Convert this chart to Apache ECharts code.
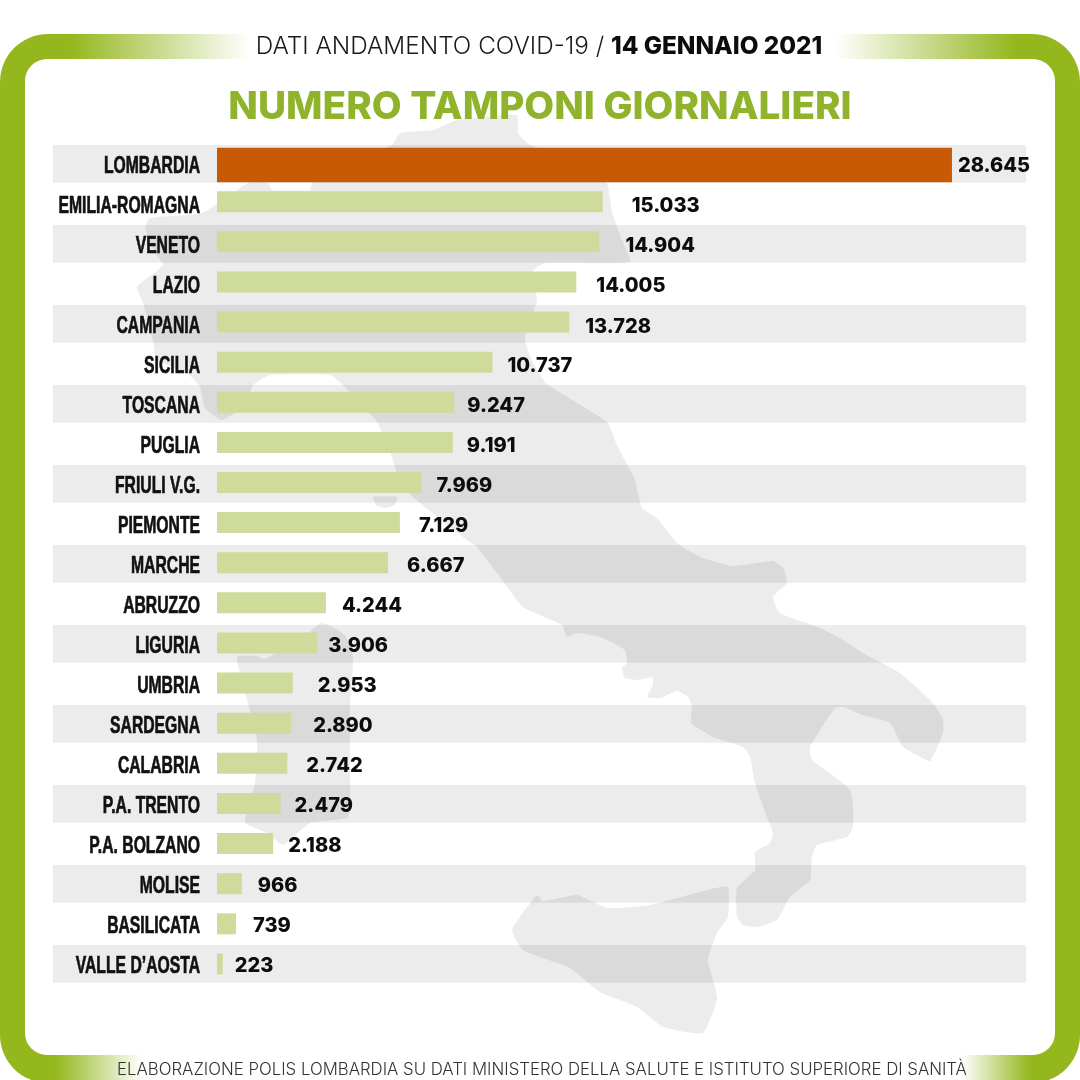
<!DOCTYPE html>
<html><head><meta charset="utf-8">
<style>html,body{margin:0;padding:0;background:#fff}#c{width:1080px;height:1080px}</style>
<script src="https://cdn.jsdelivr.net/npm/echarts@6/dist/echarts.min.js"></script>
</head><body><div id="c"></div>
<script>
const regions = ['LOMBARDIA','EMILIA-ROMAGNA','VENETO','LAZIO','CAMPANIA','SICILIA','TOSCANA','PUGLIA','FRIULI V.G.','PIEMONTE','MARCHE','ABRUZZO','LIGURIA','UMBRIA','SARDEGNA','CALABRIA','P.A. TRENTO','P.A. BOLZANO','MOLISE','BASILICATA',"VALLE D\u2019AOSTA"];
const tamponi = [28645,15033,14904,14005,13728,10737,9247,9191,7969,7129,6667,4244,3906,2953,2890,2742,2479,2188,966,739,223];
const labelGaps = [6,29,26,20,16,15,13,14,15,19,19,16,11,25,22,19,14,15,16,17,12];
const labelDrops = [1,4.5,4.5,4.5,4.5,4,4,4,3.5,3.5,3.5,3.5,3.5,3,3,3,3,2.5,2.5,2.5,2.5];
const stripeRows = [1,0,1,0,1,0,1,0,1,0,1,0,1,0,1,0,1,0,1,0,1];
const headerLight = 'DATI ANDAMENTO COVID-19 / ';
const headerBold = '14 GENNAIO 2021';
const titleText = 'NUMERO TAMPONI GIORNALIERI';
const footerText = 'ELABORAZIONE POLIS LOMBARDIA SU DATI MINISTERO DELLA SALUTE E ISTITUTO SUPERIORE DI SANIT\u00C0';

const italyOutline = [[237,190],[250,182],[268,183],[272,190],[310,190],[312,182],[345,165],[392,145],[400,133],[433,130],[457,120],[517,115],[518,133],[530,145],[590,165],[607,183],[612,212],[622,240],[630,262],[545,263],[533,271],[537,300],[525,338],[533,363],[547,384],[607,422],[617,445],[630,470],[635,480],[642,508],[657,518],[677,543],[703,558],[733,566],[773,561],[783,568],[787,583],[773,597],[780,613],[820,628],[843,640],[863,653],[900,673],[933,703],[943,720],[943,733],[930,761],[917,755],[903,747],[890,723],[863,715],[843,707],[835,708],[810,747],[812,760],[830,773],[850,790],[853,807],[853,827],[847,837],[817,845],[812,857],[810,880],[790,897],[777,920],[757,927],[743,925],[737,917],[737,888],[755,870],[755,852],[770,843],[773,833],[767,817],[755,783],[750,757],[743,747],[713,737],[691,723],[692,707],[688,697],[677,691],[660,698],[647,697],[653,685],[652,677],[638,680],[625,678],[622,668],[627,663],[625,650],[600,637],[577,633],[567,637],[562,625],[523,607],[500,577],[477,547],[467,540],[413,497],[397,473],[392,457],[377,422],[343,385],[330,375],[270,375],[253,385],[245,405],[222,420],[205,408],[200,387],[187,373],[157,360],[153,340],[143,303],[137,287],[163,265],[155,253],[145,227],[150,218],[202,213]];
const sicilyOutline = [[537,895],[543,901],[577,895],[607,908],[650,905],[707,890],[728,887],[728,917],[717,933],[708,960],[715,987],[717,1000],[703,1033],[663,1027],[637,1007],[600,992],[570,968],[523,950],[512,930]];
const sardiniaOutline = [[322,623],[345,635],[353,657],[350,707],[350,773],[348,817],[310,823],[283,845],[267,833],[245,822],[255,783],[257,740],[248,703],[237,657],[258,656],[264,659],[271,656],[300,640]];
const elbaOutline = [[373,497],[397,497],[395,505],[385,508],[377,506]];

const fmt = v => String(v).replace(/\B(?=(\d{3})+$)/g, '.');
const sansBold = 'Inter, "Open Sans", sans-serif';
const MAPC = 'rgba(0,0,0,0.075)', STRIPE = 'rgba(0,0,0,0.075)';
const GREEN = '#95b71e';

function grad(stops){return {type:'linear',x:0,y:0,x2:1,y2:0,colorStops:stops};}
function poly(points){return {type:'polygon',z:-8,silent:true,shape:{points,smooth:0.15},style:{fill:MAPC}};}

const valueLabel = {show:true,position:'right',color:'#0c0c0c',fontFamily:sansBold,fontWeight:800,fontSize:20,formatter:p=>fmt(p.value)};
const hiddenX = i => ({gridIndex:i,type:'value',min:0,max:31530,show:false});
const catY = (i,data) => ({gridIndex:i,type:'category',inverse:true,data,show:false});
const withGaps = (vals,gaps,drops)=>vals.map((v,i)=>({value:v,label:{distance:gaps[i],offset:[0,drops[i]]}}));

const chart = echarts.init(document.getElementById('c'),null,{renderer:'canvas'});
chart.setOption({
  animation:false,
  backgroundColor:'#fff',
  title:[
    {text:'{l|'+headerLight+'}{b|'+headerBold+'}',left:534,top:29,textAlign:'center',
      textStyle:{rich:{l:{fontFamily:'Inter, sans-serif',fontWeight:300,fontSize:24.3,color:'#1a1a1a',lineHeight:26},
                       b:{fontFamily:sansBold,fontWeight:800,fontSize:24.3,color:'#0c0c0c',lineHeight:26}}}},
    {text:titleText,left:535,top:80,textAlign:'center',textStyle:{fontFamily:sansBold,fontWeight:800,fontSize:38.7,color:'#8fb32a',lineHeight:44}},
    {text:footerText,left:537,top:1055,textAlign:'center',textStyle:{fontFamily:'Inter, sans-serif',fontWeight:300,fontSize:16.8,color:'#333',lineHeight:20}}
  ],
  grid:[
    {left:53,width:973,top:143.9,height:840},
    {left:217,right:54,top:145,height:40},
    {left:217,right:54,top:181.6,height:802.4}
  ],
  xAxis:[{gridIndex:0,type:'value',min:0,max:1,show:false},hiddenX(1),hiddenX(2)],
  yAxis:[
    {gridIndex:0,type:'category',inverse:true,data:regions,show:false},
    catY(1,regions.slice(0,1)),
    catY(2,regions.slice(1))
  ],
  series:[
    {name:'strisce',type:'bar',xAxisIndex:0,yAxisIndex:0,data:stripeRows,barWidth:37.8,silent:true,itemStyle:{color:STRIPE},z:1},
    {name:'Lombardia',type:'bar',xAxisIndex:1,yAxisIndex:1,data:withGaps(tamponi.slice(0,1),labelGaps.slice(0,1),labelDrops.slice(0,1)),barWidth:34.5,itemStyle:{color:'#c85a05'},label:valueLabel,z:3},
    {name:'Tamponi',type:'bar',xAxisIndex:2,yAxisIndex:2,data:withGaps(tamponi.slice(1),labelGaps.slice(1),labelDrops.slice(1)),barWidth:21,itemStyle:{color:'#cedb9a'},label:valueLabel,z:3},
    {name:'Regioni',type:'custom',xAxisIndex:0,yAxisIndex:0,silent:true,clip:false,z:4,
      encode:{x:0,y:1},data:regions.map((r,i)=>[0,i]),
      renderItem:(params,api)=>{
        const p=api.coord([0,api.value(1)]);
        return {type:'text',x:p[0]+147,y:p[1]+2,scaleX:0.655,
          style:{text:regions[params.dataIndex],textAlign:'right',textVerticalAlign:'middle',fill:'#111',
            stroke:'#111',lineWidth:0.7,
            fontFamily:'"Liberation Sans", Arial, sans-serif',fontWeight:'bold',fontSize:24}};
      }}
  ],
  graphic:[
    {type:'rect',z:-10,shape:{x:0,y:34,width:1080,height:1049,r:48},style:{fill:GREEN},silent:true},
    {type:'rect',z:-9,shape:{x:25,y:59,width:1030,height:996,r:22},style:{fill:'#fff'},silent:true},
    {type:'rect',z:-9,shape:{x:70,y:34,width:945,height:25},silent:true,style:{fill:grad([{offset:0,color:'rgba(255,255,255,0)'},{offset:0.19,color:'rgba(255,255,255,1)'},{offset:0.81,color:'rgba(255,255,255,1)'},{offset:1,color:'rgba(255,255,255,0)'}])}},
    {type:'rect',z:-9,shape:{x:55,y:1055,width:975,height:25},silent:true,style:{fill:grad([{offset:0,color:'rgba(255,255,255,0)'},{offset:0.09,color:'rgba(255,255,255,1)'},{offset:0.93,color:'rgba(255,255,255,1)'},{offset:1,color:'rgba(255,255,255,0)'}])}},
    poly(italyOutline),poly(sicilyOutline),poly(sardiniaOutline),poly(elbaOutline)
  ]
});
</script></body></html>
